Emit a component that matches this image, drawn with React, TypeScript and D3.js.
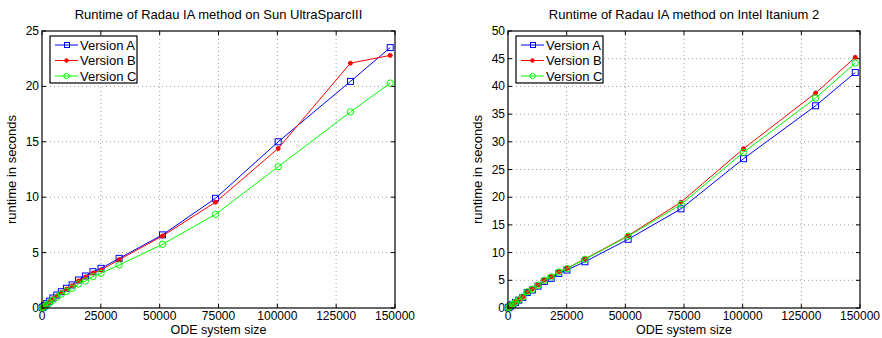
import React, { useEffect, useRef } from 'react';
import * as d3 from 'd3';

// ODE system sizes (x values shared by both plots)
const sizes = [128, 512, 1152, 2048, 3200, 4608, 6272, 8192, 10368, 12800, 15488, 18432, 21632, 25088, 32768, 51200, 73728, 100352, 131072, 147968];

// Sun UltraSparcIII runtimes
const sunA = [0.03, 0.1, 0.22, 0.4, 0.62, 0.9, 1.17, 1.47, 1.78, 2.08, 2.53, 2.89, 3.28, 3.58, 4.48, 6.6, 9.9, 15.0, 20.45, 23.5];
const sunB = [0.02, 0.09, 0.2, 0.37, 0.58, 0.85, 1.1, 1.4, 1.7, 2.0, 2.44, 2.8, 3.16, 3.43, 4.36, 6.5, 9.55, 14.4, 22.1, 22.8];
const sunC = [0.02, 0.07, 0.17, 0.3, 0.48, 0.7, 0.97, 1.25, 1.5, 1.78, 2.17, 2.44, 2.83, 3.13, 3.88, 5.75, 8.45, 12.75, 17.7, 20.3];

// Intel Itanium 2 runtimes
const itaA = [0.05, 0.17, 0.38, 0.65, 1.0, 1.42, 1.9, 2.8, 3.25, 3.95, 4.8, 5.35, 6.25, 6.85, 8.35, 12.4, 17.9, 26.95, 36.5, 42.5];
const itaB = [0.05, 0.18, 0.4, 0.68, 1.05, 1.5, 2.0, 2.95, 3.43, 4.15, 5.05, 5.65, 6.56, 7.16, 8.85, 13.05, 19.1, 28.75, 38.8, 45.25];
const itaC = [0.05, 0.18, 0.4, 0.67, 1.04, 1.48, 1.98, 2.92, 3.4, 4.1, 5.0, 5.6, 6.5, 7.1, 8.8, 12.95, 18.7, 28.1, 37.9, 44.2];

const versionNames = ['Version A', 'Version B', 'Version C'];
const versionColors = ['#0000ff', '#ff0000', '#00ff00'];
const xTicks = [0, 25000, 50000, 75000, 100000, 125000, 150000];

const FONT = '"Liberation Sans", Arial, Helvetica, sans-serif';

type PanelProps = {
    left: number;
    right: number;
    title: string;
    yMax: number;
    yStep: number;
    series: number[][];
};

function drawPanel(svg: d3.Selection<SVGGElement, unknown, null, undefined>, p: PanelProps) {
    const top = 31, bottom = 308;
    const x = d3.scaleLinear().domain([0, 150000]).range([p.left, p.right]);
    const y = d3.scaleLinear().domain([0, p.yMax]).range([bottom, top]);
    const yTicks = d3.range(0, p.yMax + 0.001, p.yStep);

    const g = svg.append('g').attr('font-family', FONT);

    // dotted grid
    g.append('g').selectAll('line').data(xTicks.slice(1, -1)).enter().append('line')
        .attr('x1', d => x(d)).attr('x2', d => x(d)).attr('y1', top).attr('y2', bottom)
        .attr('stroke', '#888').attr('stroke-width', 0.8).attr('stroke-dasharray', '1,3');
    g.append('g').selectAll('line').data(yTicks.slice(1, -1)).enter().append('line')
        .attr('y1', d => y(d)).attr('y2', d => y(d)).attr('x1', p.left).attr('x2', p.right)
        .attr('stroke', '#888').attr('stroke-width', 0.8).attr('stroke-dasharray', '1,3');

    // ticks inside on all sides (matlab style)
    const tl = 4;
    xTicks.forEach(t => {
        g.append('line').attr('x1', x(t)).attr('x2', x(t)).attr('y1', bottom).attr('y2', bottom - tl).attr('stroke', '#000');
        g.append('line').attr('x1', x(t)).attr('x2', x(t)).attr('y1', top).attr('y2', top + tl).attr('stroke', '#000');
    });
    yTicks.forEach(t => {
        g.append('line').attr('y1', y(t)).attr('y2', y(t)).attr('x1', p.left).attr('x2', p.left + tl).attr('stroke', '#000');
        g.append('line').attr('y1', y(t)).attr('y2', y(t)).attr('x1', p.right).attr('x2', p.right - tl).attr('stroke', '#000');
    });

    // tick labels
    g.append('g').selectAll('text').data(xTicks).enter().append('text')
        .attr('x', d => x(d)).attr('y', bottom + 12).attr('text-anchor', 'middle')
        .attr('font-size', 12).text(d => String(d));
    g.append('g').selectAll('text').data(yTicks).enter().append('text')
        .attr('x', p.left - 3).attr('y', d => y(d) + 4).attr('text-anchor', 'end')
        .attr('font-size', 12).text(d => String(d));

    // series
    const line = d3.line<number>().x((_, i) => x(sizes[i])).y(d => y(d));
    p.series.forEach((vals, k) => {
        const col = versionColors[k];
        g.append('path').attr('d', line(vals)).attr('fill', 'none').attr('stroke', col).attr('stroke-width', 1);
        const mk = g.append('g').selectAll('g').data(vals).enter().append('g')
            .attr('transform', (d, i) => `translate(${x(sizes[i])},${y(d)})`);
        if (k === 0) {
            mk.append('rect').attr('x', -3).attr('y', -3).attr('width', 6).attr('height', 6)
                .attr('fill', 'none').attr('stroke', col);
        } else if (k === 1) {
            mk.append('circle').attr('r', 2).attr('fill', col).attr('stroke', col);
        } else {
            mk.append('circle').attr('r', 3.2).attr('fill', 'none').attr('stroke', col);
        }
    });

    // box
    g.append('rect').attr('x', p.left).attr('y', top).attr('width', p.right - p.left).attr('height', bottom - top)
        .attr('fill', 'none').attr('stroke', '#000').attr('stroke-width', 1.2);

    // legend
    const lx = p.left + 8, ly = 36;
    g.append('rect').attr('x', lx).attr('y', ly).attr('width', 87).attr('height', 47)
        .attr('fill', '#fff').attr('stroke', '#000').attr('stroke-width', 1.2);
    versionNames.forEach((name, k) => {
        const yy = ly + 9 + k * 15.5;
        const col = versionColors[k];
        g.append('line').attr('x1', lx + 5).attr('x2', lx + 28).attr('y1', yy).attr('y2', yy).attr('stroke', col);
        if (k === 0) {
            g.append('rect').attr('x', lx + 14.5).attr('y', yy - 2.5).attr('width', 5).attr('height', 5).attr('fill', 'none').attr('stroke', col);
        } else if (k === 1) {
            g.append('circle').attr('cx', lx + 16.5).attr('cy', yy).attr('r', 1.8).attr('fill', col).attr('stroke', col);
        } else {
            g.append('circle').attr('cx', lx + 16.5).attr('cy', yy).attr('r', 2.7).attr('fill', 'none').attr('stroke', col);
        }
        g.append('text').attr('x', lx + 30).attr('y', yy + 4.5).attr('font-size', 13).text(name);
    });

    // titles and labels
    const cx = (p.left + p.right) / 2;
    g.append('text').attr('x', cx).attr('y', 19).attr('text-anchor', 'middle').attr('font-size', 13).text(p.title);
    g.append('text').attr('x', cx).attr('y', 334).attr('text-anchor', 'middle').attr('font-size', 12.5).text('ODE system size');
    g.append('text').attr('transform', `translate(${p.left - 26},${(top + bottom) / 2}) rotate(-90)`)
        .attr('text-anchor', 'middle').attr('font-size', 13).text('runtime in seconds');
}

export default function App() {
    const ref = useRef<SVGSVGElement>(null);

    useEffect(() => {
        const svg = d3.select(ref.current);
        svg.selectAll('*').remove();
        const root = svg.append('g') as unknown as d3.Selection<SVGGElement, unknown, null, undefined>;
        drawPanel(root, { left: 42, right: 395, title: 'Runtime of Radau IA method on Sun UltraSparcIII', yMax: 25, yStep: 5, series: [sunA, sunB, sunC] });
        drawPanel(root, { left: 508, right: 860, title: 'Runtime of Radau IA method on Intel Itanium 2', yMax: 50, yStep: 5, series: [itaA, itaB, itaC] });
    }, []);

    return (
        <svg ref={ref} width={882} height={338}
            style={{ position: 'absolute', left: 0, top: 0, background: '#fff' }} />
    );
}
